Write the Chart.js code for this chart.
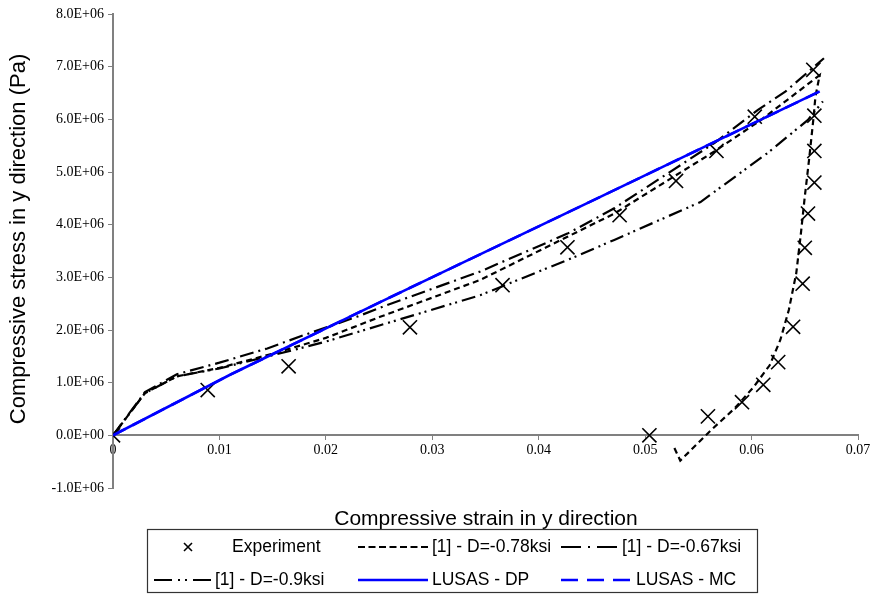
<!DOCTYPE html>
<html>
<head>
<meta charset="utf-8">
<script src="https://cdn.jsdelivr.net/npm/chart.js@4.4.0/dist/chart.umd.min.js"></script>
<style>
html,body{margin:0;padding:0;background:#fff;}
#wrap{width:878px;height:594px;position:relative;}
</style>
</head>
<body>
<div id="wrap"><canvas id="c" width="878" height="594"></canvas></div>
<script>
// ---- data ----
const seriesNames = ['Experiment', '[1] - D=-0.78ksi', '[1] - D=-0.67ksi', '[1] - D=-0.9ksi', 'LUSAS - DP', 'LUSAS - MC'];

const expStrain = [0, 0.0089, 0.0165, 0.0279, 0.0366, 0.0427, 0.0476, 0.0529, 0.0567, 0.0603, 0.0658,
                   0.0659, 0.0659, 0.0659, 0.0653, 0.0650, 0.0648, 0.0639, 0.0625, 0.0611, 0.0591, 0.0559, 0.0504];
const expStress = [0, 0.86e6, 1.31e6, 2.05e6, 2.85e6, 3.57e6, 4.18e6, 4.83e6, 5.40e6, 6.05e6, 6.94e6,
                   6.07e6, 5.40e6, 4.80e6, 4.21e6, 3.56e6, 2.88e6, 2.06e6, 1.39e6, 0.96e6, 0.63e6, 0.36e6, 0];

const d078Strain = [0, 0.0030, 0.0060, 0.0100, 0.0150, 0.0200, 0.0251, 0.0345, 0.0427, 0.0471, 0.0565, 0.0609, 0.0664,
                    0.0660, 0.0658, 0.0654, 0.0650, 0.0646, 0.0642, 0.0635, 0.0627, 0.0617, 0.0602, 0.0584, 0.0562, 0.0533, 0.0527];
const d078Stress = [0, 0.80e6, 1.12e6, 1.28e6, 1.55e6, 1.85e6, 2.25e6, 2.95e6, 3.77e6, 4.21e6, 5.39e6, 5.99e6, 6.84e6,
                    6.43e6, 5.99e6, 5.23e6, 4.53e6, 3.77e6, 3.08e6, 2.38e6, 1.81e6, 1.33e6, 0.92e6, 0.51e6, 0.10e6, -0.48e6, -0.22e6];

const d067Strain = [0, 0.0030, 0.0060, 0.0100, 0.0145, 0.0179, 0.0229, 0.0257, 0.0345, 0.0427, 0.0471, 0.0565, 0.0606, 0.0632, 0.0668];
const d067Stress = [0, 0.82e6, 1.16e6, 1.38e6, 1.65e6, 1.90e6, 2.25e6, 2.47e6, 3.11e6, 3.83e6, 4.31e6, 5.55e6, 6.18e6, 6.53e6, 7.16e6];

const d09Strain = [0, 0.0030, 0.0060, 0.0100, 0.0150, 0.0200, 0.0251, 0.0345, 0.0427, 0.0471, 0.0552, 0.0615, 0.0653, 0.0667];
const d09Stress = [0, 0.80e6, 1.12e6, 1.27e6, 1.52e6, 1.78e6, 2.09e6, 2.66e6, 3.33e6, 3.71e6, 4.43e6, 5.36e6, 5.99e6, 6.34e6];

const dpStrain = [0, 0.0110, 0.0251, 0.0452, 0.0664];
const dpStress = [0, 1.15e6, 2.53e6, 4.47e6, 6.53e6];

const mcStrain = [0, 0.0110, 0.0251, 0.0452, 0.0664];
const mcStress = [0, 1.15e6, 2.53e6, 4.47e6, 6.53e6];

const xTickValues = [0, 0.01, 0.02, 0.03, 0.04, 0.05, 0.06, 0.07];
const xTickLabels = ['0', '0.01', '0.02', '0.03', '0.04', '0.05', '0.06', '0.07'];
const yTickValues = [-1e6, 0, 1e6, 2e6, 3e6, 4e6, 5e6, 6e6, 7e6, 8e6];
const yTickLabels = ['-1.0E+06', '0.0E+00', '1.0E+06', '2.0E+06', '3.0E+06', '4.0E+06', '5.0E+06', '6.0E+06', '7.0E+06', '8.0E+06'];

const xTitle = 'Compressive strain in y direction';
const yTitle = 'Compressive stress in y direction (Pa)';

// ---- helpers ----
const pts = (xs, ys) => xs.map((x, i) => ({x: x, y: ys[i]}));

const lineBase = {showLine: true, pointRadius: 0, pointHoverRadius: 0, fill: false, tension: 0, borderWidth: 2.2};

const datasets = [
  {label: seriesNames[0], data: pts(expStrain, expStress), showLine: false, pointStyle: 'crossRot',
   pointRadius: 10, pointBorderWidth: 1.6, borderColor: '#000', backgroundColor: 'rgba(0,0,0,0)', order: 6},
  Object.assign({}, lineBase, {label: seriesNames[1], data: pts(d078Strain, d078Stress), borderColor: '#000', borderDash: [6, 4], order: 5}),
  Object.assign({}, lineBase, {label: seriesNames[2], data: pts(d067Strain, d067Stress), borderColor: '#000', borderDash: [14, 5, 2, 5], order: 4}),
  Object.assign({}, lineBase, {label: seriesNames[3], data: pts(d09Strain, d09Stress), borderColor: '#000', borderDash: [14, 5, 2, 4, 2, 5], order: 3}),
  Object.assign({}, lineBase, {label: seriesNames[4], data: pts(dpStrain, dpStress), borderColor: '#0000FF', borderWidth: 2.6, order: 2}),
  Object.assign({}, lineBase, {label: seriesNames[5], data: pts(mcStrain, mcStress), borderColor: '#0000FF', borderWidth: 2.6, borderDash: [14, 8], order: 7})
];

// legend layout & sample styles
const legendCells = [
  {ds: 0, sx: 180, ex: 196, tx: 232, y: 547, kind: 'marker'},
  {ds: 1, sx: 358, ex: 428, tx: 432, y: 547, dash: [7, 3.5]},
  {ds: 2, sx: 561, ex: 618, tx: 622, y: 547, dash: [20, 7, 2, 7]},
  {ds: 3, sx: 154, ex: 211, tx: 215, y: 580, dash: [18, 6, 2, 5, 2, 6]},
  {ds: 4, sx: 358, ex: 428, tx: 432, y: 580, dash: []},
  {ds: 5, sx: 561, ex: 631, tx: 636, y: 580, dash: [17, 9]}
];

const decor = {
  id: 'decor',
  afterDraw(chart) {
    const ctx = chart.ctx;
    ctx.save();
    ctx.fillStyle = '#000';
    ctx.textAlign = 'center';
    ctx.textBaseline = 'middle';
    ctx.font = '21px "Liberation Sans", Arial, sans-serif';
    ctx.fillText(xTitle, 486, 519);
    ctx.save();
    ctx.translate(19, 239);
    ctx.rotate(-Math.PI / 2);
    ctx.font = '22px "Liberation Sans", Arial, sans-serif';
    ctx.fillText(yTitle, 0, 0);
    ctx.restore();

    // legend box
    ctx.strokeStyle = '#333';
    ctx.lineWidth = 1.2;
    ctx.strokeRect(147.5, 529.5, 610, 63);

    ctx.font = '17.5px "Liberation Sans", Arial, sans-serif';
    ctx.textAlign = 'left';
    legendCells.forEach(c => {
      const d = chart.data.datasets[c.ds];
      if (c.kind === 'marker') {
        const mx = (c.sx + c.ex) / 2, r = 4;
        ctx.strokeStyle = d.borderColor;
        ctx.lineWidth = 1.6;
        ctx.setLineDash([]);
        ctx.beginPath();
        ctx.moveTo(mx - r, c.y - r); ctx.lineTo(mx + r, c.y + r);
        ctx.moveTo(mx - r, c.y + r); ctx.lineTo(mx + r, c.y - r);
        ctx.stroke();
      } else {
        ctx.strokeStyle = d.borderColor;
        ctx.lineWidth = d.borderWidth;
        ctx.setLineDash(c.dash);
        ctx.beginPath();
        ctx.moveTo(c.sx, c.y); ctx.lineTo(c.ex, c.y);
        ctx.stroke();
      }
      ctx.setLineDash([]);
      ctx.fillStyle = '#000';
      ctx.fillText(d.label, c.tx, c.y);
    });
    ctx.restore();
  }
};

new Chart(document.getElementById('c'), {
  type: 'scatter',
  data: {datasets: datasets},
  options: {
    responsive: false,
    animation: false,
    devicePixelRatio: 1,
    layout: {padding: {left: 0, right: 20, top: 14, bottom: 106}},
    plugins: {legend: {display: false}, tooltip: {enabled: false}},
    scales: {
      x: {
        type: 'linear', min: 0, max: 0.07, position: {y: 0},
        afterBuildTicks: s => { s.ticks = xTickValues.map(v => ({value: v})); },
        ticks: {
          callback: (v, i) => xTickLabels[i],
          font: {family: '"Liberation Serif", "Times New Roman", serif', size: 14},
          color: '#000', padding: 3, maxRotation: 0, autoSkip: false
        },
        grid: {drawOnChartArea: false, drawTicks: true, tickLength: 4, color: '#808080', lineWidth: 1},
        border: {display: true, color: '#808080', width: 2}
      },
      y: {
        type: 'linear', min: -1e6, max: 8e6, position: 'left',
        afterBuildTicks: s => { s.ticks = yTickValues.map(v => ({value: v})); },
        afterFit: s => { s.width = 113; },
        ticks: {
          callback: (v, i) => yTickLabels[i],
          font: {family: '"Liberation Serif", "Times New Roman", serif', size: 14},
          color: '#000', padding: 4, autoSkip: false
        },
        grid: {drawOnChartArea: false, drawTicks: true, tickLength: 5, color: '#808080', lineWidth: 1},
        border: {display: true, color: '#808080', width: 2}
      }
    }
  },
  plugins: [decor]
});
</script>
</body>
</html>
